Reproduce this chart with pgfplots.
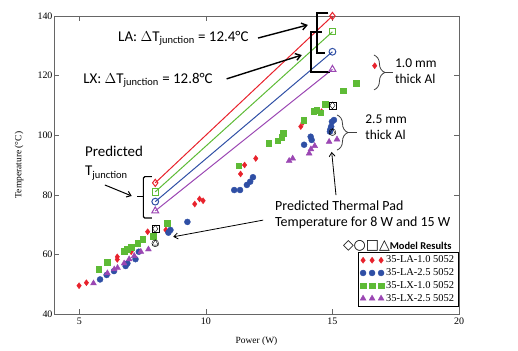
\documentclass[border=0pt]{standalone}
\usepackage{pgfplots}
\pgfplotsset{compat=1.18}
\usepackage{fontspec}
\setmainfont{Liberation Serif}
\newfontfamily\calfont{Carlito}
\newfontfamily\dejavu{DejaVu Sans}
\usetikzlibrary{arrows.meta,decorations.pathreplacing}

\definecolor{cRed}{HTML}{E8222C}
\definecolor{cBlue}{HTML}{2F4FA5}
\definecolor{cGreen}{HTML}{5EBB36}
\definecolor{cPurple}{HTML}{9B47B3}

\pgfplotsset{threemarks/.style={legend image code/.code={\draw[##1,mark repeat=1,mark phase=1] plot coordinates {(0bp,0bp)(9bp,0bp)(18bp,0bp)};}}}

\begin{document}
\begin{tikzpicture}
\begin{axis}[
 scale only axis, width=405bp, height=298bp,
 xmin=4, xmax=20, ymin=40, ymax=140,
 xtick={5,10,15,20}, ytick={40,60,...,140},
 tick align=inside, major tick length=5bp,
 axis line style={black!60}, tick style={black!60},
 clip=false,
 /pgf/number format/assume math mode=true,
 ticklabel style={font=\fontsize{10}{12}\selectfont},
 yticklabel style={xshift=2bp},
 xlabel={Power (W)}, ylabel={Temperature (\textdegree C)},
 every axis x label/.style={at={(axis description cs:0.5,-0.093)}, anchor=center},
 every axis y label/.style={at={(axis description cs:-0.086,0.5)}, rotate=90, anchor=center},
 label style={font=\fontsize{9.5}{11}\selectfont},
 legend style={at={(axis cs:19.97,60.7)}, anchor=north east, draw=black, font=\fontsize{10.5}{12}\selectfont, inner xsep=2bp, inner ysep=1.5bp, row sep=0.3bp, cells={anchor=west}},
]
% experimental data
\addplot[only marks, threemarks, mark=diamond*, mark size=3, color=cRed] coordinates {
(4.99,49.5) (5.28,50.5) (6.5,59.2) (6.5,58.3) (7.05,60.9) (7.7,67.6) (8.42,68.2)
(9.56,76.9) (9.75,78.6) (9.89,78.0) (11.37,87.0) (11.53,90.0) (11.97,92.2)
(13.75,102.9) (13.84,104.3) (14.57,107.9) (16.67,123.3)};
\addlegendentry{35-LA-1.0 5052}
\addplot[only marks, threemarks, mark=*, mark size=3, color=cBlue] coordinates {
(5.82,51.6) (6.08,53.1) (6.37,54.4) (6.83,56.1) (6.9,57.0) (7.22,58.4) (7.35,60.9)
(8.52,67.3) (8.6,68.2) (9.27,70.9) (11.12,81.6) (11.35,81.6) (11.62,83.3) (11.75,84.4) (11.86,85.9)
(13.88,96.8) (14.14,99.5) (14.18,98.4) (14.9,101.2) (14.95,102.9) (14.98,104.5) (15.06,105.1) (14.92,102.0)};
\addlegendentry{35-LA-2.5 5052}
\addplot[only marks, threemarks, mark=square*, mark size=2.8, color=cGreen] coordinates {
(5.76,55.1) (6.11,57.4) (6.77,61.1) (6.9,61.8) (7.04,62.4) (7.3,63.7) (7.5,65.1) (7.92,66.2) (8.47,70.4)
(11.29,89.7) (12.48,97.3) (12.84,98.2) (13.06,100.6) (13.0,99.4)
(13.87,105.1) (14.26,108.1) (14.54,107.6) (14.38,108.4) (14.71,110.4) (15.42,115.0) (15.95,117.4)};
\addlegendentry{35-LX-1.0 5052}
\addplot[only marks, threemarks, mark=triangle*, mark size=3.4, color=cPurple] coordinates {
(5.56,50.3) (6.11,53.7) (6.38,55.0) (6.51,55.5) (6.77,57.0) (6.97,58.4) (7.17,59.5) (7.43,60.9) (7.73,61.7)
(13.29,91.4) (13.43,92.2) (14.08,93.9) (14.15,95.3) (14.3,96.4) (14.87,97.8) (15.18,98.6)};
\addlegendentry{35-LX-2.5 5052}
% predicted junction lines
\addplot[cRed, line width=1bp, mark=diamond, mark size=3.6, forget plot] coordinates {(8,84.0) (15,140.0)};
\addplot[cGreen, line width=1bp, mark=square, mark size=3.2, forget plot] coordinates {(8,81.0) (15,134.7)};
\addplot[cBlue, line width=1bp, mark=o, mark size=3.4, forget plot] coordinates {(8,77.7) (15,128.0)};
\addplot[cPurple, line width=1bp, mark=triangle, mark size=4, forget plot] coordinates {(8,74.6) (15,122.1)};
% model pad temperatures
\addplot[black, only marks, mark=square, mark size=3.5, forget plot] coordinates {(8,68.6) (15,110.0)};
\addplot[black, only marks, mark=diamond, mark size=3.5, forget plot] coordinates {(8,68.6) (15,110.0)};
\addplot[black, only marks, mark=o, mark size=3.4, forget plot] coordinates {(8,63.7) (15,101.0)};
\addplot[black, only marks, mark=triangle, mark size=3.6, forget plot] coordinates {(8,63.7) (15,101.0)};

% annotations
\node[anchor=west, inner sep=0, font=\calfont\fontsize{15}{18}\selectfont] at (axis cs:6.53,132.6) {LA: $\Delta$T\textsubscript{junction} = 12.4\textdegree C};
\node[anchor=west, inner sep=0, font=\calfont\fontsize{15}{18}\selectfont] at (axis cs:5.15,118.5) {LX: $\Delta$T\textsubscript{junction} = 12.8\textdegree C};
\node[anchor=west, inner sep=0, font=\calfont\fontsize{15}{18}\selectfont] at (axis cs:5.22,94.7) {Predicted};
\node[anchor=west, inner sep=0, font=\calfont\fontsize{15}{18}\selectfont] at (axis cs:5.22,87.3) {T\textsubscript{junction}};
\draw[line width=1.4bp, -{Straight Barb[length=5bp,width=7bp]}] (axis cs:12.06,132.6) -- (axis cs:14.03,137.0);
\draw[line width=1.4bp, -{Straight Barb[length=5bp,width=7bp]}] (axis cs:10.82,118.9) -- (axis cs:13.79,126.9);
\draw[line width=2bp] (axis cs:14.84,141.1) -- (axis cs:14.38,141.1) -- (axis cs:14.38,127.5) -- (axis cs:14.71,127.5);
\draw[line width=2bp] (axis cs:14.58,134.7) -- (axis cs:14.15,134.7) -- (axis cs:14.15,121.3) -- (axis cs:14.9,121.3);
\draw[line width=1bp, -{Straight Barb[length=4bp,width=6bp]}] (axis cs:6.01,83.3) -- (axis cs:7.07,79.6);
\draw[line width=1.2bp, rounded corners=1.5bp] (axis cs:7.87,86.1) -- (axis cs:7.53,86.1) -- (axis cs:7.53,72.2) -- (axis cs:7.87,72.2);
\draw[line width=1.2bp] (axis cs:7.53,79.4) -- (axis cs:7.27,79.4);
% thickness braces
\draw[black!75, line width=0.8bp, decorate, decoration={brace, amplitude=11bp}] (axis cs:16.64,126.9) -- (axis cs:16.64,115.2);
\draw[black!75, line width=0.8bp] (axis cs:17.07,121.05) -- (axis cs:17.39,121.05);
\node[anchor=west, align=left, inner sep=0, font=\calfont\fontsize{13.5}{16}\selectfont] at (axis cs:17.47,121.5) {1.0 mm\\thick Al};
\draw[black!75, line width=0.8bp, decorate, decoration={brace, amplitude=11bp}] (axis cs:15.18,106.8) -- (axis cs:15.18,95.0);
\draw[black!75, line width=0.8bp] (axis cs:15.61,100.9) -- (axis cs:15.97,100.9);
\node[anchor=west, align=left, inner sep=0, font=\calfont\fontsize{13.5}{16}\selectfont] at (axis cs:16.29,102.8) {2.5 mm\\thick Al};
% pad temperature annotation
\node[anchor=west, align=left, inner sep=0, font=\calfont\fontsize{14}{16}\selectfont] at (axis cs:12.73,73.3) {Predicted Thermal Pad\\Temperature for 8 W and 15 W};
\draw[line width=0.8bp, -{Straight Barb[length=4bp,width=6bp]}] (axis cs:12.26,71.5) -- (axis cs:8.71,65.9);
\draw[line width=0.8bp, -{Straight Barb[length=4bp,width=6bp]}] (axis cs:15.14,79.9) -- (axis cs:14.97,94.4);
\node[anchor=west, inner sep=0] at (axis cs:15.41,62.8) {{\dejavu\fontsize{14}{16}\selectfont ◇○□△}{\calfont\bfseries\fontsize{10.5}{12}\selectfont Model Results}};
\end{axis}
\pgfresetboundingbox
\path ([shift={(-54bp,-37bp)}]current axis.south west) rectangle ([shift={(59bp,16bp)}]current axis.north east);
\end{tikzpicture}
\end{document}
